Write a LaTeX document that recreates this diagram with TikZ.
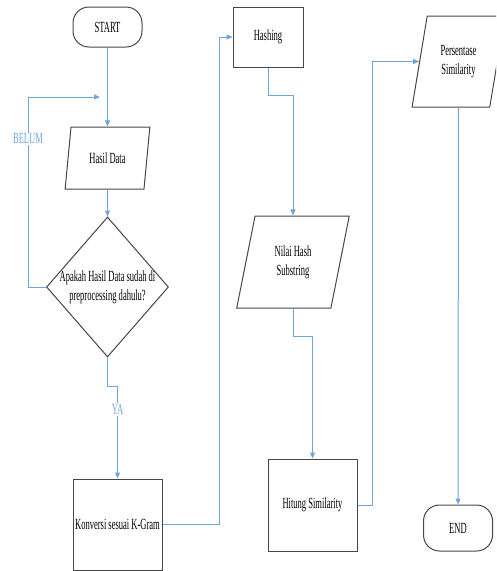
\documentclass[tikz,border=0pt]{standalone}
\usepackage{fontspec}
\setmainfont[FakeStretch=0.55]{Liberation Serif}
\usetikzlibrary{shapes.geometric,arrows.meta}
\definecolor{flowblue}{RGB}{110,166,220}
\definecolor{boxgray}{RGB}{70,70,70}

\begin{document}
\begin{tikzpicture}[x=1pt,y=-1pt,
  font=\fontsize{15.5}{19}\selectfont,
  terminal/.style={draw=boxgray, line width=1pt, rounded corners=16pt, minimum width=69pt, minimum height=40pt, inner sep=0pt},
  process/.style={draw=boxgray, line width=1pt, inner sep=0pt},
  io/.style={trapezium, trapezium left angle=75, trapezium right angle=105, trapezium stretches=true, draw=boxgray, line width=1pt, align=center, inner sep=0pt},
  decision/.style={diamond, draw=boxgray, line width=1pt, minimum width=122pt, minimum height=140pt, inner sep=0pt},
  flow/.style={draw=flowblue, line width=1pt, -{Triangle[length=6pt,width=5pt]}},
  note/.style={text=flowblue, fill=white, inner sep=1pt}]
\useasboundingbox (0,0) rectangle (496,571);
\clip (0,0) rectangle (496,571);

% left column
\node[terminal] (start) at (107.5,27) {START};
\node[io, minimum width=85pt, minimum height=62pt] (hasil) at (107.5,158) {Hasil Data};
\node[decision] (cek) at (107.5,287) {};
\node[align=center] (cektxt) at (cek.center) {Apakah Hasil Data sudah di\\preprocessing dahulu?};
\node[process, minimum width=89pt, minimum height=91pt] (konversi) at (117.5,524.5) {Konversi sesuai K-Gram};
\coordinate (balik) at (100,97);

% middle column
\node[process, minimum width=70pt, minimum height=60pt] (hashing) at (268,37) {Hashing};
\node[io, minimum width=113pt, minimum height=92pt] (nilai) at (293,262) {Nilai Hash\\Substring};
\node[process, minimum width=89pt, minimum height=92pt] (hitung) at (312.5,505) {Hitung Similarity};

% right column
\node[io, minimum width=93pt, minimum height=91pt] (persen) at (458.5,61.5) {Persentase\\Similarity};
\node[terminal, minimum height=46pt] (end) at (458,528) {END};

\draw[flow] (start) -- (hasil);
\draw[flow] (hasil) -- (cek);
\draw[flow] (cek.west) -- ++(-18,0) |- (balik) node[note, pos=0.39] {BELUM};
\draw[flow] (cek.south) -- ++(0,29) -| (konversi.north) node[note, pos=0.625] {YA};
\draw[flow] (konversi.east) -- ++(57,0) |- (hashing.west);
\draw[flow] (hashing.south) -- ++(0,28) -| (nilai.north);
\draw[flow] (nilai.south) -- ++(0,28) -| (hitung.north);
\draw[flow] (hitung.east) -- ++(15,0) |- (persen.west);
\draw[flow] (persen) -- (end);

\end{tikzpicture}
\end{document}
